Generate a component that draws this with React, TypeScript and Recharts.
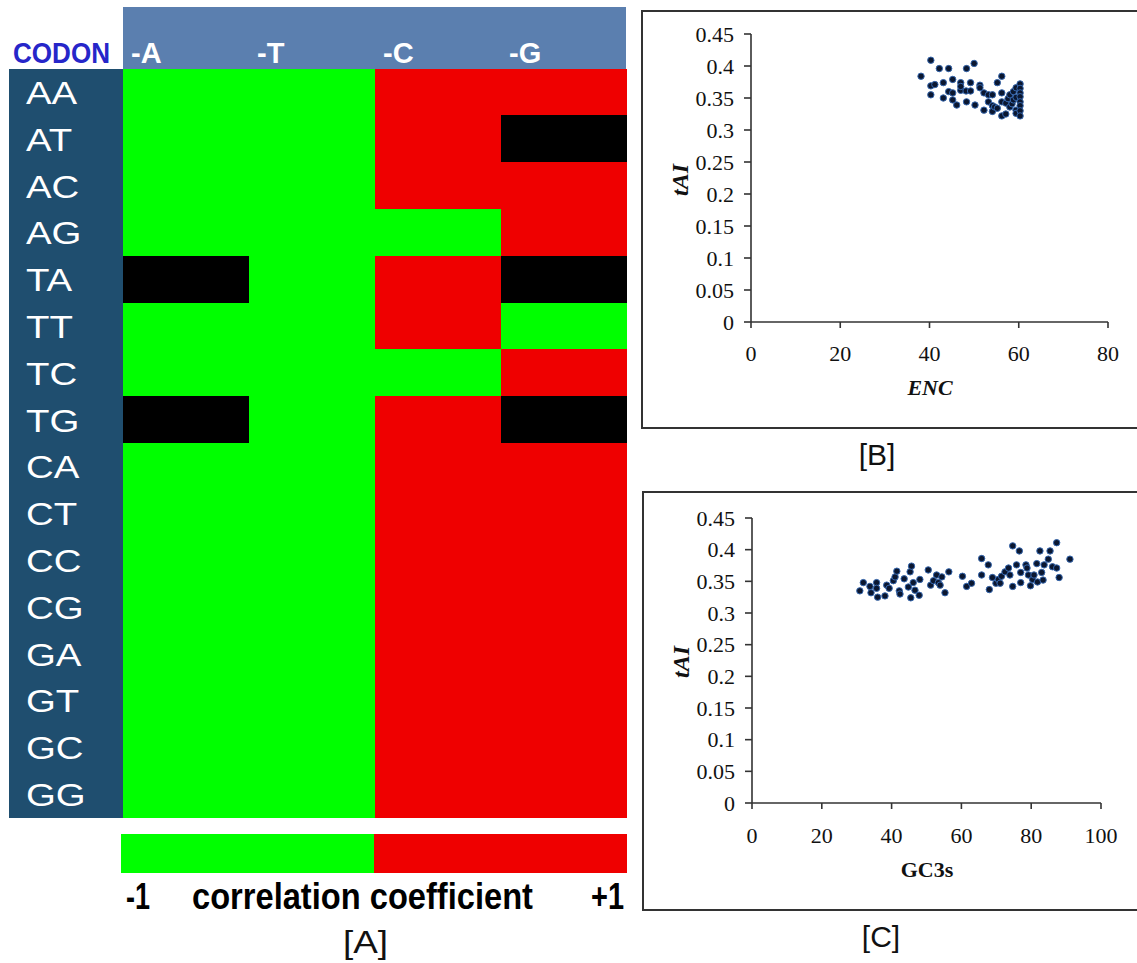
import React from 'react';
import { BarChart, Bar, Cell, XAxis, YAxis, ScatterChart, Scatter } from 'recharts';

// ---------- Panel A: correlation heat map ----------
const codons = ['AA', 'AT', 'AC', 'AG', 'TA', 'TT', 'TC', 'TG', 'CA', 'CT', 'CC', 'CG', 'GA', 'GT', 'GC', 'GG'];
const columnLabels = ['-A', '-T', '-C', '-G'];
// -1 = negative correlation, +1 = positive correlation, 0 = not significant
const minusA = [-1, -1, -1, -1, 0, -1, -1, 0, -1, -1, -1, -1, -1, -1, -1, -1];
const minusT = [-1, -1, -1, -1, -1, -1, -1, -1, -1, -1, -1, -1, -1, -1, -1, -1];
const minusC = [1, 1, 1, -1, 1, 1, -1, 1, 1, 1, 1, 1, 1, 1, 1, 1];
const minusG = [1, 0, 1, 1, 0, -1, 1, 0, 1, 1, 1, 1, 1, 1, 1, 1];
const columns = [minusA, minusT, minusC, minusG];

const legendSegments = [-1, 1];

// ---------- Panel B: tAI vs ENC ----------
const encValues = [
  38.1, 40.3, 40.3, 41.2, 40.3, 42.2, 44.3, 43.1, 43.1, 45.2, 44.3, 45.2, 45.2, 46.1, 47.0, 47.0, 47.0,
  48.3, 48.3, 48.2, 49.2, 50.0, 49.2, 50.2, 51.3, 51.3, 52.2, 52.2, 53.2, 53.2, 54.1, 54.1, 54.1, 54.6,
  55.2, 56.2, 55.2, 56.2, 56.2, 56.2, 57.1, 57.1, 57.6, 58.0, 58.0, 58.5, 58.8, 58.8, 59.4, 59.4, 59.4,
  59.4, 60.3, 60.3, 60.3, 60.3, 60.3, 60.3, 60.3, 60.3,
];
const taiB = [
  0.384, 0.409, 0.369, 0.371, 0.355, 0.396, 0.396, 0.374, 0.35, 0.379, 0.36, 0.358, 0.347, 0.339, 0.374, 0.362, 0.368,
  0.396, 0.344, 0.361, 0.374, 0.404, 0.361, 0.339, 0.37, 0.366, 0.358, 0.331, 0.355, 0.344, 0.355, 0.338, 0.329, 0.336,
  0.374, 0.384, 0.334, 0.358, 0.344, 0.322, 0.325, 0.342, 0.349, 0.355, 0.336, 0.341, 0.36, 0.347, 0.366, 0.351, 0.331,
  0.326, 0.372, 0.365, 0.358, 0.352, 0.344, 0.338, 0.33, 0.322,
];

// ---------- Panel C: tAI vs GC3s ----------
const gc3sValues = [
  30.9, 31.9, 33.8, 34.1, 35.7, 35.7, 36.0, 38.1, 38.6, 39.3, 40.5, 41.0, 41.5, 42.2, 42.4, 43.6, 44.8, 45.3,
  45.5, 45.7, 46.2, 46.7, 47.9, 48.1, 50.5, 51.2, 52.0, 52.9, 53.4, 53.9, 54.4, 55.3, 56.4, 60.3, 61.5, 62.9,
  65.8, 65.8, 67.7, 68.0, 68.9, 69.9, 70.6, 71.1, 71.5, 72.5, 73.5, 73.9, 74.7, 74.7, 75.8, 76.6, 77.0, 77.0,
  78.5, 78.8, 79.2, 79.8, 80.4, 80.8, 81.6, 81.8, 82.5, 83.0, 83.7, 83.4, 84.9, 85.4, 86.1, 87.3, 87.3, 88.0, 91.1,
];
const taiC = [
  0.335, 0.348, 0.342, 0.332, 0.348, 0.339, 0.325, 0.327, 0.344, 0.339, 0.351, 0.357, 0.366, 0.335, 0.33, 0.354, 0.341, 0.365,
  0.324, 0.374, 0.348, 0.336, 0.328, 0.353, 0.368, 0.344, 0.351, 0.36, 0.348, 0.344, 0.357, 0.332, 0.365, 0.358, 0.342, 0.347,
  0.386, 0.36, 0.376, 0.337, 0.356, 0.347, 0.353, 0.347, 0.358, 0.365, 0.371, 0.36, 0.406, 0.342, 0.376, 0.398, 0.348, 0.364,
  0.376, 0.371, 0.36, 0.343, 0.353, 0.36, 0.378, 0.349, 0.398, 0.364, 0.376, 0.352, 0.385, 0.398, 0.373, 0.411, 0.371, 0.356, 0.385,
];

const taiTicks = [0, 0.05, 0.1, 0.15, 0.2, 0.25, 0.3, 0.35, 0.4, 0.45];
const encTicks = [0, 20, 40, 60, 80];
const gcTicks = [0, 20, 40, 60, 80, 100];

// ---------- styling ----------
const GREEN = '#00ff00';
const RED = '#ef0000';
const BLACK = '#000000';
const colorOf = (v: number) => (v < 0 ? GREEN : v > 0 ? RED : BLACK);

const SANS = '"Liberation Sans", Arial, sans-serif';
const SERIF = '"Liberation Serif", "Times New Roman", serif';

const heatRows = codons.map((codon) => ({ codon, c0: 1, c1: 1, c2: 1, c3: 1 }));
const legendRow = [{ k: 'cc', s0: 1, s1: 1 }];
const pointsB = encValues.map((x, i) => ({ x, y: taiB[i] }));
const pointsC = gc3sValues.map((x, i) => ({ x, y: taiC[i] }));

const HeaderTick = (props: any) => (
  <text x={props.x + 8} y={55} fill="#ffffff" fontSize={29} fontWeight="bold" fontFamily={SANS}>
    {columnLabels[Math.round(props.payload.value)]}
  </text>
);

const CodonTick = (props: any) => (
  <text
    transform={`translate(18, ${props.y}) scale(1.2, 1)`}
    dy="0.36em"
    fill="#ffffff"
    fontSize={32}
    fontFamily={SANS}
  >
    {props.payload.value}
  </text>
);

const Dot = (props: any) => (
  <circle cx={props.cx} cy={props.cy} r={3.2} fill="#0b1730" stroke="#3566ad" strokeWidth={1} />
);

const fmt = (v: number) => String(Number(v.toFixed(2)));

const axisLine = { stroke: '#333', strokeWidth: 1.6 };
const tickText = { fill: '#111', fontSize: 22, fontFamily: SERIF };

function TaiScatter(props: { data: { x: number; y: number }[]; xTicks: number[]; xMax: number; width: number; height: number; margin: any; xHeight: number; tickMargin: number }) {
  return (
    <ScatterChart width={props.width} height={props.height} margin={props.margin}>
      <XAxis
        type="number"
        dataKey="x"
        domain={[0, props.xMax]}
        ticks={props.xTicks}
        interval={0}
        height={props.xHeight}
        tickSize={6}
        tickMargin={props.tickMargin}
        axisLine={axisLine}
        tickLine={axisLine}
        tick={tickText}
      />
      <YAxis
        type="number"
        dataKey="y"
        domain={[0, 0.45]}
        ticks={taiTicks}
        interval={0}
        width={109}
        tickSize={7}
        tickMargin={10}
        tickFormatter={fmt}
        axisLine={axisLine}
        tickLine={axisLine}
        tick={tickText}
      />
      <Scatter data={props.data} shape={Dot} isAnimationActive={false} />
    </ScatterChart>
  );
}

export default function App() {
  return (
    <div style={{ position: 'absolute', left: 0, top: 0, width: 1137, height: 963, overflow: 'hidden', background: '#fff' }}>
      {/* Panel A backgrounds */}
      <div style={{ position: 'absolute', left: 123, top: 7, width: 503, height: 62, background: '#5b7faf' }} />
      <div style={{ position: 'absolute', left: 9, top: 69, width: 114, height: 749, background: '#1f4e6f' }} />

      {/* Panel A heat map */}
      <div style={{ position: 'absolute', left: 8, top: 8 }}>
        <BarChart
          layout="vertical"
          width={619}
          height={810}
          data={heatRows}
          margin={{ top: 0, right: 0, bottom: 0, left: 0 }}
          barCategoryGap={0}
          barGap={0}
        >
          <XAxis
            type="number"
            orientation="top"
            domain={[0, 4]}
            ticks={[0, 1, 2, 3]}
            interval={0}
            height={61}
            axisLine={false}
            tickLine={false}
            tick={HeaderTick}
          />
          <YAxis
            type="category"
            dataKey="codon"
            width={115}
            interval={0}
            axisLine={false}
            tickLine={false}
            tick={CodonTick}
          />
          {columns.map((col, i) => (
            <Bar key={i} dataKey={`c${i}`} stackId="heat" isAnimationActive={false}>
              {col.map((v, j) => (
                <Cell key={j} fill={colorOf(v)} stroke={colorOf(v)} strokeWidth={1} shapeRendering="crispEdges" />
              ))}
            </Bar>
          ))}
        </BarChart>
      </div>

      {/* Panel A colour key */}
      <div style={{ position: 'absolute', left: 121, top: 834 }}>
        <BarChart
          layout="vertical"
          width={506}
          height={39}
          data={legendRow}
          margin={{ top: 0, right: 0, bottom: 0, left: 0 }}
          barCategoryGap={0}
        >
          <XAxis type="number" hide domain={[0, 2]} />
          <YAxis type="category" dataKey="k" hide />
          {legendSegments.map((v, i) => (
            <Bar key={i} dataKey={`s${i}`} stackId="key" fill={colorOf(v)} isAnimationActive={false} />
          ))}
        </BarChart>
      </div>

      {/* Panel B */}
      <div style={{ position: 'absolute', left: 641, top: 10, width: 520, height: 419, border: '2px solid #333', boxSizing: 'border-box' }} />
      <div style={{ position: 'absolute', left: 642, top: 11 }}>
        <TaiScatter
          data={pointsB}
          xTicks={encTicks}
          xMax={80}
          width={495}
          height={417}
          margin={{ top: 23, right: 29, bottom: 0, left: 0 }}
          xHeight={106}
          tickMargin={17}
        />
      </div>

      {/* Panel C */}
      <div style={{ position: 'absolute', left: 642, top: 491, width: 520, height: 420, border: '2px solid #333', boxSizing: 'border-box' }} />
      <div style={{ position: 'absolute', left: 643, top: 492 }}>
        <TaiScatter
          data={pointsC}
          xTicks={gcTicks}
          xMax={100}
          width={494}
          height={418}
          margin={{ top: 26, right: 36, bottom: 0, left: 0 }}
          xHeight={107}
          tickMargin={18}
        />
      </div>

      {/* Text overlay */}
      <svg width={1137} height={963} style={{ position: 'absolute', left: 0, top: 0, pointerEvents: 'none' }}>
        <text x={13} y={63} textLength={97} lengthAdjust="spacingAndGlyphs" fontSize={29} fontWeight="bold" fontFamily={SANS} fill="#2626c9">CODON</text>

        <text x={126} y={909} textLength={24} lengthAdjust="spacingAndGlyphs" fontSize={36} fontWeight="bold" fontFamily={SANS} fill="#000">-1</text>
        <text x={192} y={909} textLength={341} lengthAdjust="spacingAndGlyphs" fontSize={36} fontWeight="bold" fontFamily={SANS} fill="#000">correlation coefficient</text>
        <text x={591} y={909} textLength={33} lengthAdjust="spacingAndGlyphs" fontSize={36} fontWeight="bold" fontFamily={SANS} fill="#000">+1</text>
        <text x={343} y={953} textLength={45} lengthAdjust="spacingAndGlyphs" fontSize={32} fontFamily={SANS} fill="#111">[A]</text>

        <text x={877} y={465} textAnchor="middle" fontSize={30} fontFamily={SANS} fill="#111">[B]</text>
        <text x={881} y={947} textAnchor="middle" fontSize={30} fontFamily={SANS} fill="#111">[C]</text>

        <text x={930} y={395} textAnchor="middle" fontSize={22} fontWeight="bold" fontStyle="italic" fontFamily={SERIF} fill="#111">ENC</text>
        <text transform="translate(688,180) rotate(-90)" textAnchor="middle" fontSize={24} fontWeight="bold" fontStyle="italic" fontFamily={SERIF} fill="#111">tAI</text>

        <text x={927} y={877} textAnchor="middle" fontSize={22} fontWeight="bold" fontFamily={SERIF} fill="#111">GC3s</text>
        <text transform="translate(689,662) rotate(-90)" textAnchor="middle" fontSize={24} fontWeight="bold" fontStyle="italic" fontFamily={SERIF} fill="#111">tAI</text>
      </svg>
    </div>
  );
}
